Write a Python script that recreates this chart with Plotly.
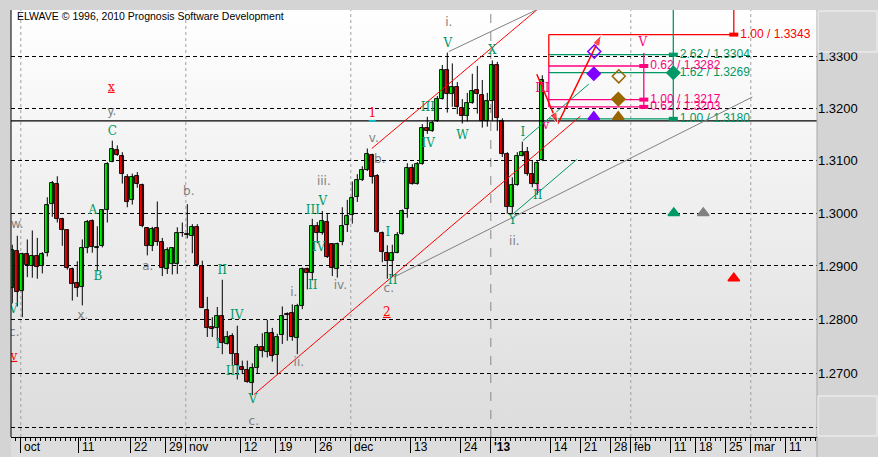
import base64
import math
import plotly.graph_objects as go

# ---------------- data ----------------
# one entry per daily bar, bar number 0..106
opens = [1.2859, 1.2928, 1.2853, 1.2923, 1.2900, 1.2919, 1.2900, 1.2924, 1.3017, 1.3056,
         1.2988, 1.2967, 1.2895, 1.2868, 1.2861, 1.2934, 1.2985, 1.2934, 1.2938, 1.3006,
         1.3098, 1.3121, 1.3109, 1.3068, 1.3024, 1.3071, 1.3054, 1.2972, 1.2937, 1.2972,
         1.2945, 1.2895, 1.2904, 1.2904, 1.2963, 1.2961, 1.2957, 1.2973, 1.2900, 1.2818,
         1.2785, 1.2784, 1.2806, 1.2754, 1.2769, 1.2735, 1.2712, 1.2705, 1.2681, 1.2709,
         1.2748, 1.2739, 1.2774, 1.2733, 1.2770, 1.2809, 1.2812, 1.2765, 1.2824, 1.2895,
         1.2886, 1.2975, 1.2962, 1.2983, 1.2942, 1.2895, 1.2945, 1.2977, 1.2997, 1.3030,
         1.3062, 1.3081, 1.3111, 1.3070, 1.2963, 1.2925, 1.2909, 1.2925, 1.2960, 1.3007,
         1.3085, 1.3056, 1.3093, 1.3163, 1.3157, 1.3175, 1.3218, 1.3274, 1.3228, 1.3242,
         1.3200, 1.3185, 1.3210, 1.3236, 1.3226, 1.3176, 1.3214, 1.3284, 1.3176, 1.3112,
         1.3012, 1.3053, 1.3109, 1.3117, 1.3075, 1.3056, 1.3101]
highs = [1.2940, 1.2957, 1.2925, 1.2950, 1.2967, 1.2953, 1.2926, 1.3030, 1.3061, 1.3070,
         1.2991, 1.2968, 1.2897, 1.2909, 1.2950, 1.2987, 1.2988, 1.2975, 1.3007, 1.3097,
         1.3138, 1.3129, 1.3116, 1.3074, 1.3075, 1.3078, 1.3056, 1.2973, 1.2974, 1.3022,
         1.2953, 1.2935, 1.2935, 1.2973, 1.2982, 1.3017, 1.2979, 1.2979, 1.2910, 1.2842,
         1.2804, 1.2823, 1.2874, 1.2778, 1.2774, 1.2788, 1.2723, 1.2723, 1.2718, 1.2754,
         1.2774, 1.2799, 1.2784, 1.2773, 1.2824, 1.2813, 1.2828, 1.2829, 1.2897, 1.2897,
         1.2989, 1.2983, 1.3004, 1.2998, 1.2942, 1.2944, 1.3011, 1.3025, 1.3060, 1.3074,
         1.3089, 1.3123, 1.3113, 1.3074, 1.2965, 1.2939, 1.2940, 1.2964, 1.3007, 1.3095,
         1.3093, 1.3097, 1.3170, 1.3184, 1.3176, 1.3224, 1.3284, 1.3308, 1.3287, 1.3251,
         1.3218, 1.3230, 1.3267, 1.3282, 1.3255, 1.3230, 1.3293, 1.3290, 1.3181, 1.3116,
         1.3068, 1.3116, 1.3136, 1.3126, 1.3101, 1.3099, 1.3264]
lows = [1.2830, 1.2824, 1.2804, 1.2879, 1.2878, 1.2876, 1.2886, 1.2918, 1.2993, 1.2982,
        1.2938, 1.2893, 1.2835, 1.2842, 1.2826, 1.2924, 1.2925, 1.2890, 1.2935, 1.2982,
        1.3097, 1.3109, 1.3056, 1.3011, 1.3016, 1.3048, 1.2973, 1.2920, 1.2928, 1.2938,
        1.2881, 1.2885, 1.2884, 1.2885, 1.2955, 1.2952, 1.2924, 1.2899, 1.2821, 1.2767,
        1.2767, 1.2760, 1.2735, 1.2753, 1.2715, 1.2688, 1.2698, 1.2682, 1.2659, 1.2699,
        1.2729, 1.2729, 1.2721, 1.2698, 1.2754, 1.2760, 1.2760, 1.2735, 1.2819, 1.2856,
        1.2873, 1.2943, 1.2959, 1.2915, 1.2881, 1.2878, 1.2939, 1.2964, 1.2980, 1.3021,
        1.3061, 1.3080, 1.3056, 1.2963, 1.2907, 1.2876, 1.2879, 1.2924, 1.2959, 1.2991,
        1.3054, 1.3054, 1.3092, 1.3151, 1.3155, 1.3174, 1.3217, 1.3192, 1.3203, 1.3189,
        1.3171, 1.3175, 1.3209, 1.3190, 1.3163, 1.3165, 1.3176, 1.3157, 1.3107, 1.2999,
        1.2998, 1.3052, 1.3108, 1.3071, 1.3049, 1.3035, 1.3099]
closes = [1.2930, 1.2852, 1.2923, 1.2901, 1.2918, 1.2899, 1.2923, 1.3016, 1.3058, 1.2988,
          1.2968, 1.2896, 1.2866, 1.2859, 1.2933, 1.2983, 1.2935, 1.2935, 1.3006, 1.3094,
          1.3122, 1.3111, 1.3074, 1.3021, 1.3068, 1.3056, 1.2975, 1.2937, 1.2969, 1.2946,
          1.2896, 1.2931, 1.2933, 1.2963, 1.2962, 1.2958, 1.2973, 1.2901, 1.2822, 1.2784,
          1.2782, 1.2806, 1.2755, 1.2767, 1.2736, 1.2715, 1.2706, 1.2683, 1.2709, 1.2748,
          1.2740, 1.2774, 1.2732, 1.2767, 1.2807, 1.2808, 1.2767, 1.2824, 1.2895, 1.2886,
          1.2975, 1.2962, 1.2984, 1.2916, 1.2896, 1.2942, 1.2975, 1.2995, 1.3029, 1.3062,
          1.3081, 1.3113, 1.3068, 1.2964, 1.2926, 1.2910, 1.2925, 1.2959, 1.3004, 1.3085,
          1.3056, 1.3093, 1.3163, 1.3157, 1.3172, 1.3218, 1.3274, 1.3228, 1.3242, 1.3203,
          1.3185, 1.3210, 1.3234, 1.3228, 1.3176, 1.3214, 1.3284, 1.3181, 1.3112, 1.3012,
          1.3053, 1.3108, 1.3117, 1.3075, 1.3056, 1.3095, 1.3254]
bar_index = list(range(len(opens)))

# date axis (bar-number positions of the date ticks)
x_tick_pos = [1.7, 13.3, 23.7, 30.7, 34.7, 45.7, 52.7, 60.7, 67.7, 79.7, 89.7, 95.7,
              107.7, 113.7, 119.7, 123.7, 131.7, 136.7, 142.7, 147.7, 154.7]
x_tick_text = ["oct", "11", "22", "29", "nov", "12", "19", "26", "dec", "13", "24", "'13",
               "14", "21", "28", "feb", "11", "18", "25", "mar", "11"]
month_ticks = ["oct", "nov", "dec", "'13", "feb", "mar"]

# price axis
y_tick_vals = [1.26, 1.27, 1.28, 1.29, 1.30, 1.31, 1.32, 1.33]
y_tick_text = ["1.2600", "1.2700", "1.2800", "1.2900", "1.3000", "1.3100", "1.3200", "1.3300"]
price_min, price_max = 1.2582, 1.3391
bar_min, bar_max = -0.26, 160.94
current_price = 1.3176

# wave labels: text, bar, price, colour group
wave_labels = [
    ("<u>x</u>", 19.8, 1.3240, "red"), ("y.", 19.9, 1.3193, "gray"), ("C", 20.0, 1.3155, "green"),
    ("w.", 1.0, 1.2978, "gray"), ("A", 16.1, 1.3004, "green"), ("B", 17.1, 1.2879, "green"),
    ("b.", 35.3, 1.3040, "gray"), ("a.", 27.1, 1.2899, "gray"), ("II", 42.0, 1.2890, "green"),
    ("i.", 56.3, 1.2849, "gray"), ("x.", 14.1, 1.2807, "gray"), ("V", 0.2, 1.2817, "green"),
    ("c.", 0.4, 1.2775, "gray"), ("<u>v</u>", 0.3, 1.2730, "red"), ("IV", 44.9, 1.2806, "green"),
    ("I", 41.1, 1.2752, "green"), ("III", 44.1, 1.2702, "green"), ("V", 48.1, 1.2650, "green"),
    ("c.", 48.3, 1.2610, "gray"), ("ii.", 57.3, 1.2718, "gray"), ("iii.", 62.3, 1.3060, "gray"),
    ("V", 62.1, 1.3021, "green"), ("III", 60.1, 1.3004, "green"), ("IV", 61.3, 1.2934, "green"),
    ("II", 60.1, 1.2862, "green"), ("iv.", 65.6, 1.2862, "gray"), ("b.", 73.5, 1.3101, "gray"),
    ("I", 75.1, 1.2962, "green"), ("II", 76.1, 1.2871, "green"), ("c.", 75.3, 1.2857, "gray"),
    ("Y", 100.1, 1.2984, "green"), ("ii.", 100.4, 1.2946, "gray"), ("II", 105.1, 1.3032, "green"),
    ("i", 105.1, 1.3047, "magenta"), ("i.", 87.3, 1.3365, "gray"), ("V", 87.1, 1.3325, "green"),
    ("X", 96.0, 1.3311, "green"), ("1", 72.0, 1.3189, "red"), ("III", 83.1, 1.3200, "green"),
    ("IV", 83.2, 1.3132, "green"), ("W", 90.0, 1.3147, "green"), ("v.", 72.3, 1.3142, "gray"),
    ("I", 102.1, 1.3153, "green"), ("v", 106.7, 1.3166, "magenta"), ("III", 106.0, 1.3238, "magenta"),
    ("<u>2</u>", 74.9, 1.2812, "red"), ("V", 126.1, 1.3326, "magenta"),
]

# projection targets: ratio label, price
targets_red = [("1.00", 1.3343)]
targets_green = [("2.62", 1.3304), ("1.62", 1.3269), ("1.00", 1.3180)]
targets_magenta = [("0.62", 1.3282), ("1.00", 1.3217), ("0.62", 1.3203)]
target_start_bar = 107.3
target_end_bar = {"red": 144.3, "green": 132.2, "magenta": 126.3}

# trend lines: (bar0, price0, bar1, price1, colour)
trend_lines = [
    (71.9, 1.3123, 105.0, 1.3392, "red"),
    (48.3, 1.2660, 113.6, 1.3185, "red"),
    (87.3, 1.3310, 105.0, 1.3392, "gray"),
    (76.3, 1.2879, 148.0, 1.3222, "gray"),
    (102.1, 1.3138, 115.3, 1.3247, "green"),
    (100.1, 1.2998, 112.9, 1.3102, "green"),
]
# projected path (red arrows)
path_bars = [104.9, 109.1, 117.8]
path_prices = [1.3266, 1.3170, 1.3343]

# symbols: bar, price, symbol, colour
symbols = [
    (116.3, 1.3267, "diamond", "purple"), (121.3, 1.3262, "diamond-open", "brown"),
    (116.4, 1.3310, "diamond-open", "purple"), (121.2, 1.3218, "diamond", "brown"),
    (132.2, 1.3269, "diamond", "green"), (116.3, 1.3184, "triangle-up", "purple"),
    (121.2, 1.3184, "triangle-up", "brown"), (132.3, 1.3000, "triangle-up", "green"),
    (138.2, 1.3000, "triangle-up", "gray"), (144.3, 1.2877, "triangle-up", "red"),
]

# ---------------- styles ----------------
COL = {"green": "#009966", "gray": "#808080", "red": "#ff0000", "magenta": "#ff0080",
       "purple": "#8000ff", "brown": "#996600", "cyan": "#00c0d0"}
W, H = 878, 457
ML, MR, MT, MB = 11, 61, 10, 20

fig = go.Figure()

# candles: wicks as one line trace, bodies as floating bars
wick_x, wick_y = [], []
for i, hi, lo in zip(bar_index, highs, lows):
    wick_x += [i, i, None]
    wick_y += [lo, hi, None]
fig.add_trace(go.Scatter(x=wick_x, y=wick_y, mode="lines", line=dict(color="black", width=1),
                         hoverinfo="skip"))
body_base = [min(o, c) for o, c in zip(opens, closes)]
body_len = [abs(c - o) for o, c in zip(opens, closes)]
body_col = ["#00ff00" if c > o else "#ff0000" for o, c in zip(opens, closes)]
fig.add_trace(go.Bar(x=bar_index, y=body_len, base=body_base, width=0.78,
                     marker=dict(color=body_col, line=dict(color="black", width=0.9)),
                     hoverinfo="skip"))

# current price line
fig.add_trace(go.Scatter(x=[bar_min, bar_max], y=[current_price, current_price], mode="lines",
                         line=dict(color="black", width=1.2), hoverinfo="skip"))
fig.add_trace(go.Scatter(x=[71.3, 72.7], y=[current_price, current_price], mode="lines",
                         line=dict(color=COL["cyan"], width=2), hoverinfo="skip"))

for b0, p0, b1, p1, c in trend_lines:
    fig.add_trace(go.Scatter(x=[b0, b1], y=[p0, p1], mode="lines",
                             line=dict(color=COL[c], width=1), hoverinfo="skip"))


def add_targets(items, colour_key):
    end = target_end_bar[colour_key]
    col = COL[colour_key]
    for ratio, price in items:
        fig.add_trace(go.Scatter(x=[target_start_bar, end], y=[price, price], mode="lines",
                                 line=dict(color=col, width=1.3), hoverinfo="skip"))
        fig.add_trace(go.Scatter(x=[end - 0.9, end + 0.9], y=[price, price], mode="lines",
                                 line=dict(color=col, width=4), hoverinfo="skip"))
        fig.add_trace(go.Scatter(x=[end + 1.3], y=[price], mode="text",
                                 text=[f"{ratio} / {price:.4f}"], textposition="middle right",
                                 textfont=dict(color=col, size=12, family="Liberation Sans"),
                                 hoverinfo="skip"))


add_targets(targets_red, "red")
add_targets(targets_green, "green")
add_targets(targets_magenta, "magenta")

red_top = max(p for _, p in targets_red)
green_low = min(p for _, p in targets_green)
mag_low = min(p for _, p in targets_magenta)
mag_high = max(p for _, p in targets_magenta)
fig.add_trace(go.Scatter(x=[target_end_bar["red"]] * 2, y=[price_max, red_top], mode="lines",
                         line=dict(color=COL["red"], width=1.3), hoverinfo="skip"))
fig.add_trace(go.Scatter(x=[target_end_bar["green"]] * 2, y=[price_max, green_low], mode="lines",
                         line=dict(color=COL["green"], width=1.3), hoverinfo="skip"))
fig.add_trace(go.Scatter(x=[target_end_bar["magenta"]] * 2, y=[1.3307, mag_low], mode="lines",
                         line=dict(color=COL["magenta"], width=1.3), hoverinfo="skip"))
fig.add_trace(go.Scatter(x=[target_start_bar] * 2, y=[red_top, mag_high], mode="lines",
                         line=dict(color=COL["red"], width=1.3), hoverinfo="skip"))
fig.add_trace(go.Scatter(x=[target_start_bar] * 2, y=[mag_high, mag_low], mode="lines",
                         line=dict(color=COL["magenta"], width=1.3), hoverinfo="skip"))

# red projected path with arrow heads
fig.add_trace(go.Scatter(x=path_bars, y=path_prices, mode="lines+markers",
                         line=dict(color=COL["red"], width=1.5),
                         marker=dict(symbol=["circle", "arrow", "arrow"], size=[0, 12, 12],
                                     angleref="previous", color=COL["red"]),
                         hoverinfo="skip"))

for b, p, sym, c in symbols:
    fig.add_trace(go.Scatter(x=[b], y=[p], mode="markers",
                             marker=dict(symbol=sym, size=10, color=COL[c],
                                         line=dict(color=COL[c], width=1.5)),
                             hoverinfo="skip"))

fonts = {"green": "DejaVu Serif", "magenta": "DejaVu Serif", "red": "DejaVu Serif",
         "gray": "DejaVu Sans"}
for grp in ["green", "gray", "red", "magenta"]:
    items = [w for w in wave_labels if w[3] == grp]
    fig.add_trace(go.Scatter(x=[w[1] for w in items], y=[w[2] for w in items], mode="text",
                             text=[w[0] for w in items], textposition="middle center",
                             textfont=dict(color=COL[grp], size=12, family=fonts[grp]),
                             hoverinfo="skip"))

# ---------------- layout ----------------
grad_svg = ('<svg xmlns="http://www.w3.org/2000/svg" width="10" height="100" preserveAspectRatio="none">'
            '<defs><linearGradient id="g" x1="0" y1="0" x2="0" y2="1">'
            '<stop offset="0" stop-color="#ffffff"/><stop offset="1" stop-color="#dcdcdc"/>'
            '</linearGradient></defs><rect width="10" height="100" fill="url(#g)"/></svg>')
grad_uri = "data:image/svg+xml;base64," + base64.b64encode(grad_svg.encode()).decode()

pw = W - ML - MR
ph = H - MT - MB
shapes = []
shapes.append(dict(type="rect", xref="paper", yref="paper", x0=0, x1=1, y0=-MB / ph, y1=0,
                   fillcolor="#dddddd", line=dict(width=0), layer="below"))
for lab in month_ticks:
    xv = x_tick_pos[x_tick_text.index(lab)]
    shapes.append(dict(type="line", xref="x", yref="paper", x0=xv, x1=xv, y0=0, y1=1,
                       line=dict(color="#888888" if lab == "'13" else "#a0a0a0", width=1,
                                 dash="dash" if lab == "'13" else "dot"), layer="below"))
shapes.append(dict(type="line", xref="paper", yref="paper", x0=0, x1=0, y0=0, y1=1,
                   line=dict(color="black", width=1)))
shapes.append(dict(type="line", xref="paper", yref="paper", x0=1, x1=1, y0=-MB / ph, y1=1,
                   line=dict(color="#a8a8a8", width=1)))
for y0, y1 in [((437 - 52) / ph, (437 - 11) / ph), ((437 - 436) / ph, (437 - 396) / ph)]:
    shapes.append(dict(type="rect", xref="paper", yref="paper", x0=(818 - ML) / pw,
                       x1=(877 - ML) / pw, y0=y0, y1=y1, fillcolor="#d6d6d6",
                       line=dict(color="#f4f4f4", width=1)))

annotations = [dict(text="ELWAVE © 1996, 2010 Prognosis Software Development", xref="paper",
                    yref="paper", x=(15 - ML) / pw, y=(437 - 16) / ph, xanchor="left",
                    yanchor="middle", showarrow=False,
                    font=dict(size=10.5, color="black", family="Liberation Sans"))]
for xv, lab in zip(x_tick_pos, x_tick_text):
    annotations.append(dict(text=("<b>%s</b>" % lab) if lab == "'13" else lab, xref="x", yref="paper",
                            x=xv, y=0, xanchor="left", yanchor="top", xshift=1, yshift=-1,
                            showarrow=False,
                            font=dict(size=12, color="black", family="Liberation Sans")))

fig.update_layout(
    width=W, height=H, margin=dict(l=ML, r=MR, t=MT, b=MB, pad=0, autoexpand=False),
    paper_bgcolor="#d4d4d4", plot_bgcolor="rgba(0,0,0,0)",
    showlegend=False, hovermode=False, bargap=0,
    images=[dict(source=grad_uri, xref="paper", yref="paper", x=0, y=1, sizex=1, sizey=1,
                 xanchor="left", yanchor="top", sizing="stretch", layer="below")],
    shapes=shapes, annotations=annotations,
    xaxis=dict(range=[bar_min, bar_max], showgrid=False,
               zeroline=False, showline=True, linecolor="black", linewidth=1,
               tickmode="array", tickvals=x_tick_pos, showticklabels=False,
               ticks="outside", ticklen=15, tickcolor="black", tickwidth=1,
               minor=dict(ticks="outside", ticklen=3, tickcolor="black", tick0=0.7, dtick=1,
                          showgrid=False)),
    yaxis=dict(type="log", range=[math.log10(price_min), math.log10(price_max)], side="right",
               tickmode="array", tickvals=y_tick_vals, ticktext=y_tick_text,
               showgrid=True, gridcolor="black", gridwidth=1, griddash="4px,3px",
               zeroline=False, showline=False, ticks="",
               tickfont=dict(size=13, color="black", family="Liberation Sans")),
)

fig.write_html("out.html", config={"displayModeBar": False},
               post_script="document.body.style.margin='0';"
               "document.body.style.overflow='hidden';")
